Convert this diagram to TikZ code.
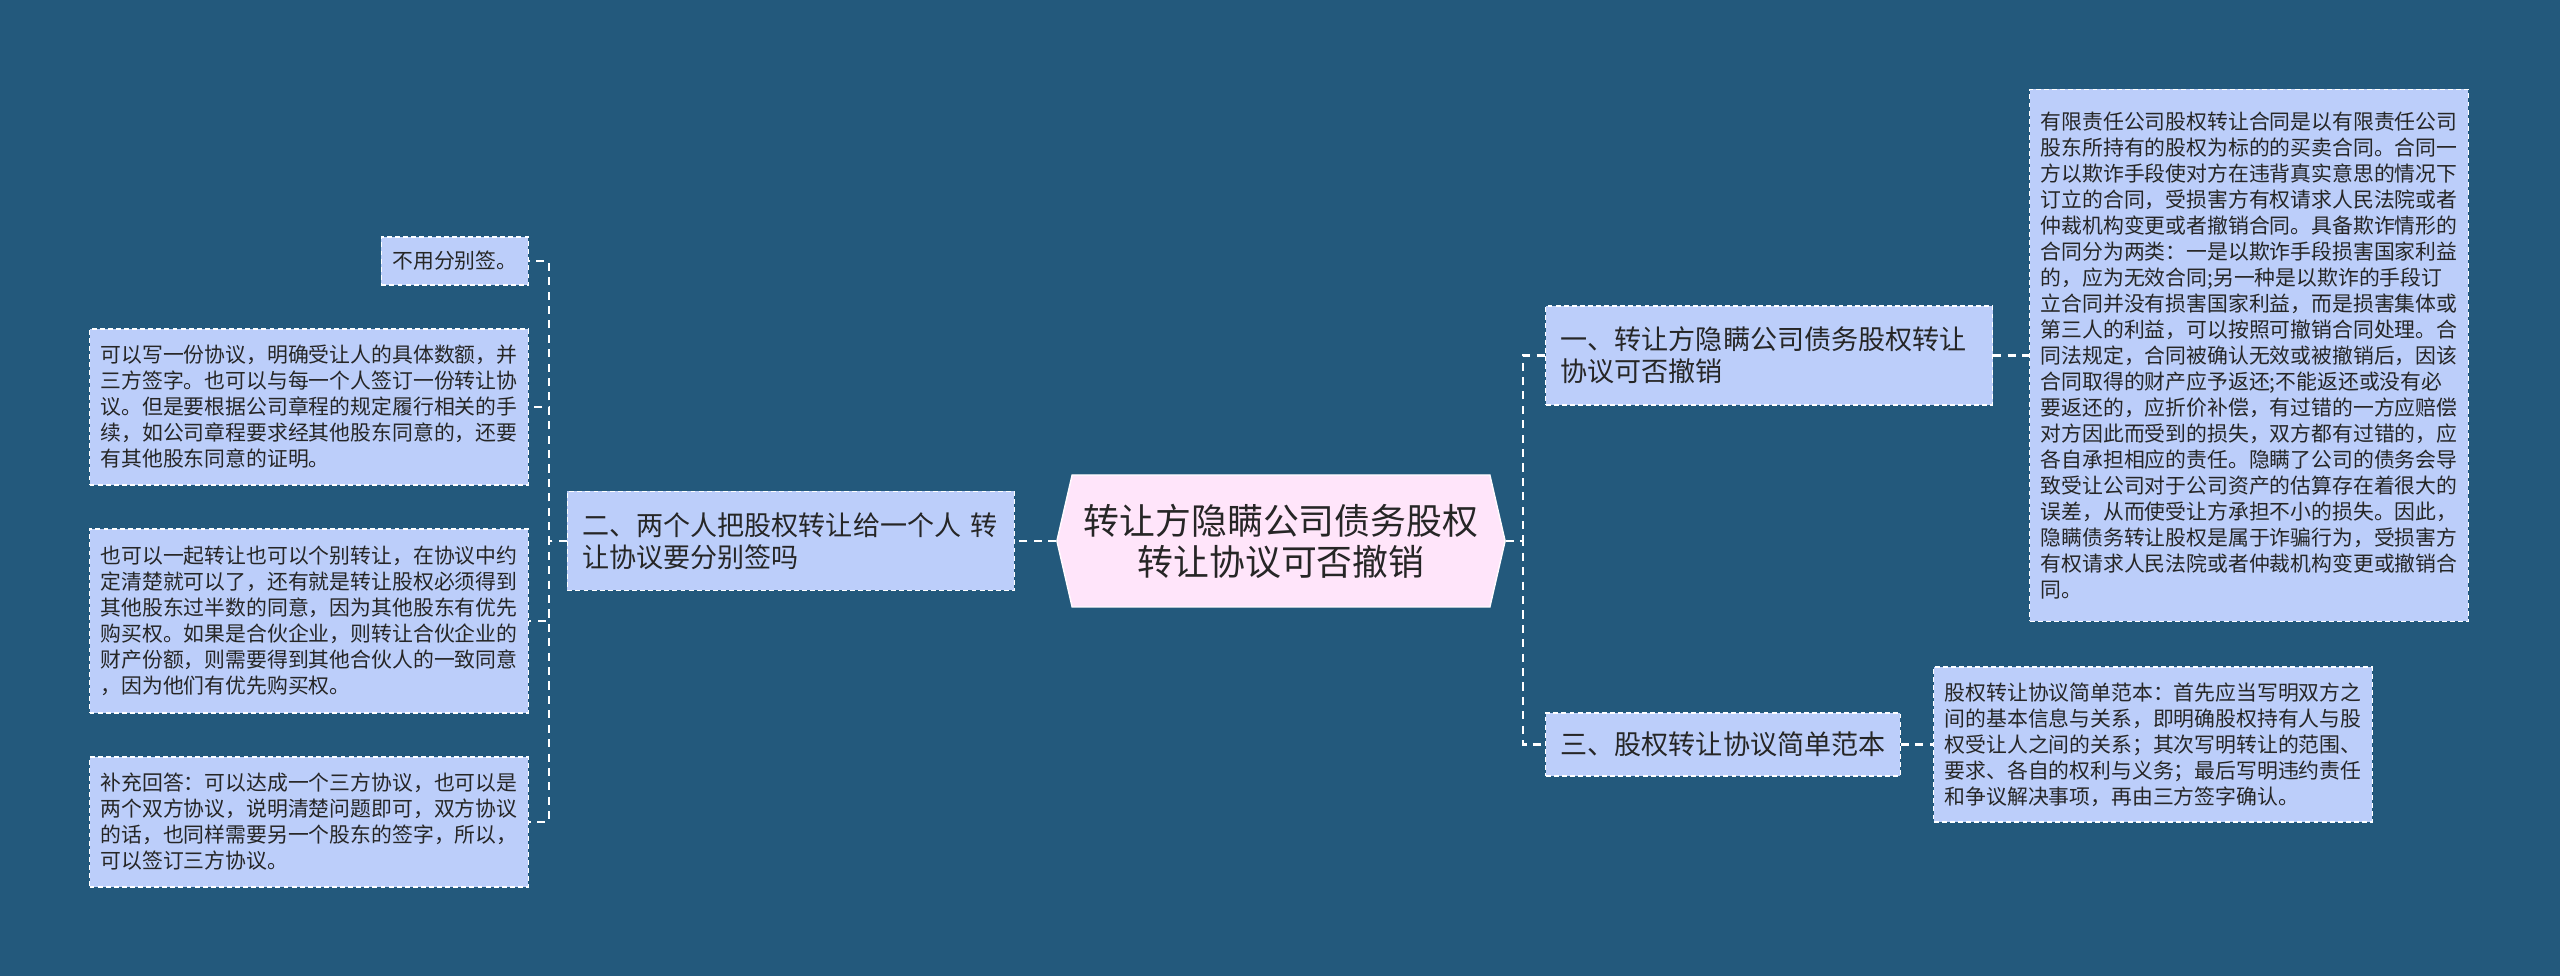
\documentclass[tikz,border=0pt]{standalone}
\usepackage{fontspec}
\setmainfont{Noto Sans CJK SC}
\usetikzlibrary{shapes.symbols}
\definecolor{bgblue}{RGB}{35,89,124}
\definecolor{boxblue}{RGB}{188,206,250}
\definecolor{rootpink}{RGB}{255,229,250}
\definecolor{ink}{RGB}{38,38,38}

\begin{document}
\begin{tikzpicture}[
  x=1cm,y=1cm,
  box/.style={draw=white,line width=0.35pt,dash pattern=on 1.4pt off 0.9pt,
    fill=boxblue,text=ink,align=left},
  branch/.style={box,font=\fontsize{7.7}{9.1}\selectfont,inner xsep=0.15cm,inner ysep=0.1cm},
  leaf/.style={box,font=\fontsize{5.93}{7.4}\selectfont,inner xsep=0.11cm,inner ysep=0.15cm},
  topic/.style={shape=signal,signal to=east and west,signal pointer angle=154,
    draw=white!85!rootpink,line width=0.4pt,fill=rootpink,text=ink,align=center,
    font=\fontsize{10.2}{11.7}\selectfont,minimum width=4.28cm,minimum height=1.32cm},
  link/.style={draw=white,line width=0.6pt,dash pattern=on 2.3pt off 1.8pt}]
\fill[bgblue] (0,0) rectangle (25.6,9.76);
\path[use as bounding box] (0,0) rectangle (25.6,9.76);

\node[topic] (root) at (12.81,4.35) {转让方隐瞒公司债务股权\\转让协议可否撤销};

\node[branch,anchor=west,text width=4.17cm,minimum height=0.99cm] (b1) at (15.45,6.205)
  {一、转让方隐瞒公司债务股权转让\\协议可否撤销};
\node[branch,anchor=east,text width=4.17cm,minimum height=0.99cm] (b2) at (10.15,4.35)
  {二、两个人把股权转让给一个人 转\\让协议要分别签吗};
\node[branch,anchor=west,minimum height=0.63cm] (b3) at (15.45,2.315)
  {三、股权转让协议简单范本};

\node[leaf,anchor=west,minimum height=5.32cm] (l1) at (20.29,6.205)
  {有限责任公司股权转让合同是以有限责任公司\\
   股东所持有的股权为标的的买卖合同。合同一\\
   方以欺诈手段使对方在违背真实意思的情况下\\
   订立的合同，受损害方有权请求人民法院或者\\
   仲裁机构变更或者撤销合同。具备欺诈情形的\\
   合同分为两类：一是以欺诈手段损害国家利益\\
   的，应为无效合同;另一种是以欺诈的手段订\\
   立合同并没有损害国家利益，而是损害集体或\\
   第三人的利益，可以按照可撤销合同处理。合\\
   同法规定，合同被确认无效或被撤销后，因该\\
   合同取得的财产应予返还;不能返还或没有必\\
   要返还的，应折价补偿，有过错的一方应赔偿\\
   对方因此而受到的损失，双方都有过错的，应\\
   各自承担相应的责任。隐瞒了公司的债务会导\\
   致受让公司对于公司资产的估算存在着很大的\\
   误差，从而使受让方承担不小的损失。因此，\\
   隐瞒债务转让股权是属于诈骗行为，受损害方\\
   有权请求人民法院或者仲裁机构变更或撤销合\\
   同。};
\node[leaf,anchor=west,minimum height=1.55cm] (l3) at (19.33,2.315)
  {股权转让协议简单范本：首先应当写明双方之\\
   间的基本信息与关系，即明确股权持有人与股\\
   权受让人之间的关系；其次写明转让的范围、\\
   要求、各自的权利与义务；最后写明违约责任\\
   和争议解决事项，再由三方签字确认。};

\node[leaf,anchor=east,minimum height=0.48cm,inner ysep=0.08cm] (a1) at (5.29,7.15) {不用分别签。};
\node[leaf,anchor=east,minimum height=1.56cm] (a2) at (5.29,5.69)
  {可以写一份协议，明确受让人的具体数额，并\\
   三方签字。也可以与每一个人签订一份转让协\\
   议。但是要根据公司章程的规定履行相关的手\\
   续，如公司章程要求经其他股东同意的，还要\\
   有其他股东同意的证明。};
\node[leaf,anchor=east,minimum height=1.84cm] (a3) at (5.29,3.55)
  {也可以一起转让也可以个别转让，在协议中约\\
   定清楚就可以了，还有就是转让股权必须得到\\
   其他股东过半数的同意，因为其他股东有优先\\
   购买权。如果是合伙企业，则转让合伙企业的\\
   财产份额，则需要得到其他合伙人的一致同意\\
   ，因为他们有优先购买权。};
\node[leaf,anchor=east,minimum height=1.30cm] (a4) at (5.29,1.54)
  {补充回答：可以达成一个三方协议，也可以是\\
   两个双方协议，说明清楚问题即可，双方协议\\
   的话，也同样需要另一个股东的签字，所以，\\
   可以签订三方协议。};

\draw[link] (root.east) -- ++(0.17,0) |- (b1.west);
\draw[link] (root.east) -- ++(0.17,0) |- (b3.west);
\draw[link] (root.west) -- (b2.east);
\draw[link] (b1.east) -- (l1.west);
\draw[link] (b3.east) -- (l3.west);
\foreach \n in {a1,a2,a3,a4}
  \draw[link] (b2.west) -- ++(-0.18,0) |- (\n.east);
\end{tikzpicture}
\end{document}
